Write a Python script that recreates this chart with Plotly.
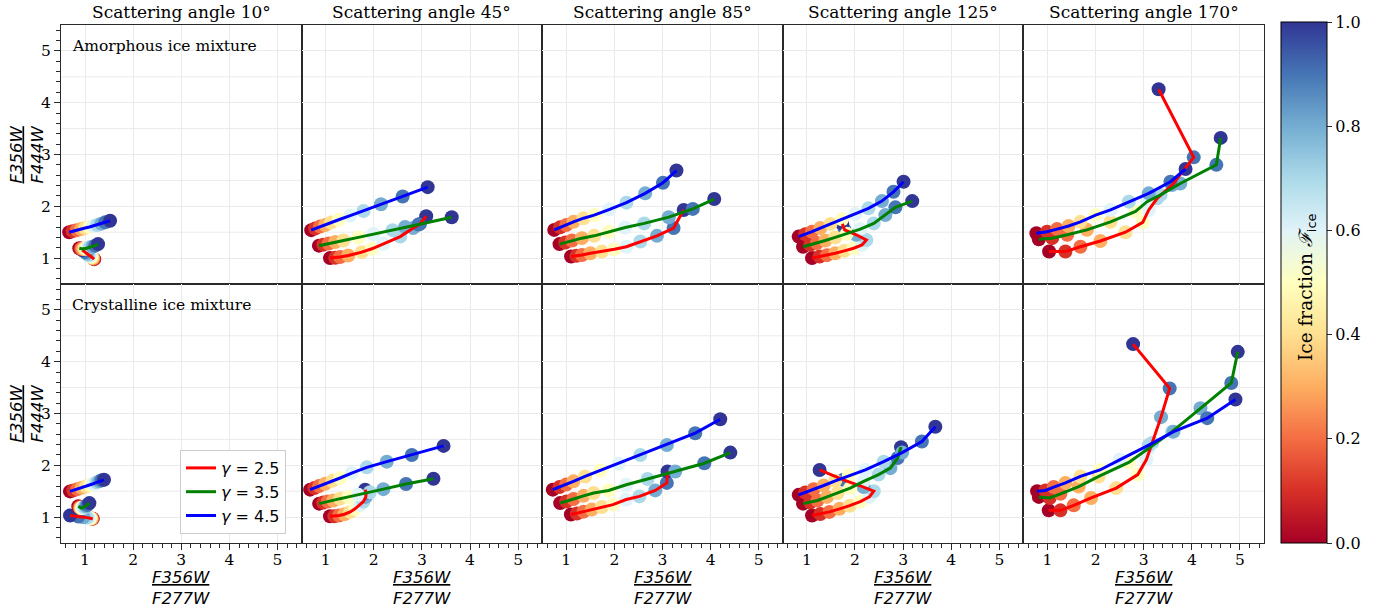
import plotly.graph_objects as go
from plotly.subplots import make_subplots

# ---------------- data ----------------
angles = [10, 45, 85, 125, 170]
gammas = [2.5, 3.5, 4.5]
gamma_colors = ["red", "green", "blue"]
ice_fraction = [0.0, 0.1, 0.2, 0.3, 0.4, 0.5, 0.6, 0.7, 0.8, 0.9, 1.0]
row_labels = ["Amorphous ice mixture", "Crystalline ice mixture"]
axis_ticks = [1, 2, 3, 4, 5]
cbar_ticks = [0.0, 0.2, 0.4, 0.6, 0.8, 1.0]

# Amorphous ice mixture (top row)
A10_g25_x = [1.19, 1.18, 1.17, 1.16, 1.145, 1.13, 1.10, 1.07, 1.035, 1.00, 0.94]
A10_g25_y = [0.98, 0.985, 0.99, 1.00, 1.01, 1.025, 1.045, 1.06, 1.09, 1.115, 1.155]
A10_g35_x = [0.88, 0.91, 0.93, 0.96, 0.99, 1.02, 1.06, 1.10, 1.155, 1.21, 1.27]
A10_g35_y = [1.19, 1.18, 1.18, 1.18, 1.18, 1.185, 1.20, 1.21, 1.22, 1.24, 1.27]
A10_g45_x = [0.67, 0.74, 0.83, 0.92, 1.00, 1.09, 1.17, 1.25, 1.34, 1.42, 1.52]
A10_g45_y = [1.50, 1.52, 1.54, 1.56, 1.58, 1.60, 1.62, 1.64, 1.665, 1.69, 1.72]

A45_g25_x = [1.09, 1.20, 1.30, 1.47, 1.75, 1.96, 2.20, 2.55, 2.82, 2.96, 3.09]
A45_g25_y = [1.00, 1.005, 1.02, 1.05, 1.115, 1.18, 1.275, 1.415, 1.58, 1.66, 1.81]
A45_g35_x = [0.86, 0.95, 1.06, 1.20, 1.37, 1.68, 1.99, 2.39, 2.65, 2.93, 3.62]
A45_g35_y = [1.24, 1.26, 1.28, 1.31, 1.34, 1.40, 1.465, 1.54, 1.60, 1.65, 1.79]
A45_g45_x = [0.70, 0.78, 0.885, 0.99, 1.11, 1.27, 1.51, 1.785, 2.15, 2.60, 3.12]
A45_g45_y = [1.54, 1.57, 1.61, 1.64, 1.685, 1.74, 1.82, 1.91, 2.04, 2.19, 2.37]

A85_g25_x = [1.10, 1.21, 1.325, 1.50, 1.74, 2.00, 2.25, 2.54, 2.885, 3.23, 3.44]
A85_g25_y = [1.03, 1.043, 1.06, 1.095, 1.125, 1.17, 1.22, 1.32, 1.43, 1.58, 1.93]
A85_g35_x = [0.86, 0.98, 1.12, 1.325, 1.58, 1.88, 2.225, 2.62, 3.13, 3.63, 4.075]
A85_g35_y = [1.27, 1.30, 1.34, 1.385, 1.43, 1.51, 1.59, 1.67, 1.79, 1.95, 2.14]
A85_g45_x = [0.75, 0.874, 1.00, 1.15, 1.36, 1.58, 1.90, 2.25, 2.64, 3.01, 3.29]
A85_g45_y = [1.544, 1.596, 1.64, 1.70, 1.77, 1.83, 1.94, 2.07, 2.25, 2.455, 2.69]

A125_g25_x = [1.107, 1.265, 1.419, 1.59, 1.779, 1.972, 2.146, 2.236, 2.028, 1.785, 1.737]
A125_g25_y = [1.00, 1.03, 1.057, 1.095, 1.14, 1.19, 1.255, 1.35, 1.45, 1.545, 1.66]
A125_g35_x = [0.92, 1.07, 1.21, 1.384, 1.59, 1.83, 2.11, 2.39, 2.63, 2.84, 3.19]
A125_g35_y = [1.22, 1.255, 1.29, 1.34, 1.40, 1.47, 1.56, 1.67, 1.83, 1.98, 2.10]
A125_g45_x = [0.83, 0.968, 1.107, 1.28, 1.49, 1.73, 2.007, 2.28, 2.56, 2.80, 3.01]
A125_g45_y = [1.415, 1.46, 1.51, 1.58, 1.66, 1.75, 1.85, 1.96, 2.10, 2.28, 2.475]

A170_g25_x = [1.034, 1.373, 1.685, 2.10, 2.62, 2.98, 3.105, 3.28, 3.59, 4.04, 3.31]
A170_g25_y = [1.126, 1.126, 1.22, 1.33, 1.50, 1.69, 1.93, 2.155, 2.41, 2.945, 4.26]
A170_g35_x = [0.82, 1.097, 1.41, 1.82, 2.31, 2.83, 3.07, 3.35, 3.76, 4.51, 4.60]
A170_g35_y = [1.365, 1.385, 1.45, 1.545, 1.70, 1.90, 2.09, 2.22, 2.44, 2.80, 3.32]
A170_g45_x = [0.77, 0.99, 1.20, 1.44, 1.685, 2.00, 2.31, 2.69, 3.105, 3.556, 3.87]
A170_g45_y = [1.48, 1.51, 1.56, 1.62, 1.70, 1.83, 1.93, 2.09, 2.25, 2.475, 2.72]

# Crystalline ice mixture (bottom row)
C10_g25_x = [1.16, 1.15, 1.145, 1.13, 1.117, 1.103, 1.075, 1.034, 0.963, 0.86, 0.687]
C10_g25_y = [0.97, 0.97, 0.97, 0.97, 0.977, 0.977, 0.985, 0.99, 0.997, 1.01, 1.03]
C10_g35_x = [0.86, 0.88, 0.895, 0.91, 0.92, 0.937, 0.96, 0.99, 1.02, 1.047, 1.09]
C10_g35_y = [1.21, 1.196, 1.18, 1.18, 1.177, 1.177, 1.18, 1.196, 1.215, 1.235, 1.27]
C10_g45_x = [0.687, 0.756, 0.84, 0.93, 1.02, 1.103, 1.17, 1.24, 1.295, 1.346, 1.394]
C10_g45_y = [1.496, 1.515, 1.54, 1.567, 1.59, 1.62, 1.644, 1.67, 1.69, 1.71, 1.72]

C45_g25_x = [1.09, 1.18, 1.28, 1.39, 1.51, 1.61, 1.716, 1.785, 1.835, 1.84, 1.82]
C45_g25_y = [1.016, 1.016, 1.03, 1.055, 1.10, 1.16, 1.235, 1.30, 1.39, 1.465, 1.53]
C45_g35_x = [0.864, 0.947, 1.045, 1.16, 1.30, 1.473, 1.68, 1.92, 2.20, 2.67, 3.24]
C45_g35_y = [1.26, 1.28, 1.30, 1.32, 1.356, 1.39, 1.43, 1.48, 1.54, 1.64, 1.74]
C45_g45_x = [0.677, 0.766, 0.864, 0.989, 1.14, 1.30, 1.54, 1.855, 2.27, 2.79, 3.45]
C45_g45_y = [1.53, 1.56, 1.60, 1.645, 1.70, 1.755, 1.85, 1.96, 2.07, 2.20, 2.375]

C85_g25_x = [1.096, 1.22, 1.36, 1.53, 1.74, 1.97, 2.246, 2.52, 2.85, 3.09, 3.105]
C85_g25_y = [1.05, 1.07, 1.105, 1.145, 1.196, 1.24, 1.34, 1.40, 1.515, 1.66, 1.88]
C85_g35_x = [0.874, 1.00, 1.15, 1.36, 1.567, 1.88, 2.246, 2.69, 3.265, 3.87, 4.41]
C85_g35_y = [1.27, 1.30, 1.35, 1.41, 1.465, 1.515, 1.625, 1.735, 1.88, 2.04, 2.245]
C85_g45_x = [0.72, 0.86, 1.00, 1.15, 1.39, 1.706, 2.09, 2.54, 3.09, 3.68, 4.20]
C85_g45_y = [1.53, 1.58, 1.63, 1.69, 1.785, 1.90, 2.03, 2.20, 2.39, 2.62, 2.89]

C125_g25_x = [1.107, 1.28, 1.47, 1.68, 1.89, 2.11, 2.30, 2.39, 2.18, 1.76, 1.265]
C125_g25_y = [1.03, 1.06, 1.10, 1.16, 1.22, 1.30, 1.39, 1.50, 1.58, 1.72, 1.91]
C125_g35_x = [0.92, 1.07, 1.22, 1.42, 1.64, 1.90, 2.18, 2.49, 2.735, 2.887, 2.957]
C125_g35_y = [1.26, 1.285, 1.32, 1.39, 1.465, 1.56, 1.69, 1.82, 1.945, 2.14, 2.35]
C125_g45_x = [0.83, 0.968, 1.14, 1.35, 1.59, 1.87, 2.215, 2.596, 2.98, 3.39, 3.67]
C125_g45_y = [1.43, 1.475, 1.54, 1.61, 1.70, 1.80, 1.91, 2.07, 2.245, 2.46, 2.745]

C170_g25_x = [1.026, 1.27, 1.546, 1.907, 2.43, 2.876, 3.057, 3.175, 3.36, 3.54, 2.78]
C170_g25_y = [1.13, 1.13, 1.227, 1.37, 1.56, 1.82, 2.11, 2.43, 2.93, 3.485, 4.34]
C170_g35_x = [0.82, 1.047, 1.27, 1.65, 2.065, 2.69, 3.105, 3.59, 4.18, 4.82, 4.955]
C170_g35_y = [1.39, 1.37, 1.45, 1.59, 1.785, 2.055, 2.33, 2.65, 3.10, 3.59, 4.19]
C170_g45_x = [0.785, 0.957, 1.13, 1.373, 1.685, 2.09, 2.50, 3.105, 3.62, 4.32, 4.907]
C170_g45_y = [1.50, 1.515, 1.58, 1.66, 1.785, 1.91, 2.106, 2.39, 2.65, 2.91, 3.27]

# lookup table built from the named lists above
g = globals()
series = {}
for ri, pre in enumerate(["A", "C"]):
    for ang in angles:
        for gm in gammas:
            key = f"{pre}{ang}_g{str(gm).replace('.', '')}"
            series[(ri, ang, gm)] = (g[key + "_x"], g[key + "_y"])

# ---------------- style ----------------
RdYlBu = [[0.0, '#a50026'], [0.1, '#d73027'], [0.2, '#f46d43'], [0.3, '#fdae61'],
          [0.4, '#fee090'], [0.5, '#ffffbf'], [0.6, '#e0f3f8'], [0.7, '#abd9e9'],
          [0.8, '#74add1'], [0.9, '#4575b4'], [1.0, '#313695']]
SERIF = "DejaVu Serif"
SANS = "DejaVu Sans"
AXC = "#2a2a2a"
GRIDC = "#ebebeb"

W, H = 1389, 610
ML, MR, MT, MB = 61, 125, 25, 67
PW = W - ML - MR
PH = H - MT - MB

fig = make_subplots(rows=2, cols=5, horizontal_spacing=0, vertical_spacing=0)

first_scale = True
for ri in range(2):
    for ci, ang in enumerate(angles):
        # markers first
        for gm in gammas:
            xs, ys = series[(ri, ang, gm)]
            fig.add_trace(go.Scatter(
                x=xs, y=ys, mode="markers", showlegend=False, hoverinfo="skip",
                marker=dict(size=14, color=ice_fraction, colorscale=RdYlBu,
                            cmin=0, cmax=1, line=dict(width=0),
                            showscale=first_scale,
                            colorbar=dict(
                                x=(1281 - ML) / PW, xanchor="left", xref="paper",
                                xpad=0, ypad=0,
                                y=(H - MB - 282.5) / PH, yanchor="middle",
                                lenmode="pixels", len=521,
                                thickness=46, thicknessmode="pixels",
                                outlinecolor="black", outlinewidth=1,
                                tickvals=cbar_ticks, tickformat=".1f",
                                ticks="outside", ticklen=5, tickcolor=AXC,
                                tickfont=dict(family=SERIF, size=16, color="black"),
                            ) if first_scale else None)),
                row=ri + 1, col=ci + 1)
            first_scale = False
        # lines on top
        for gm, lc in zip(gammas, gamma_colors):
            xs, ys = series[(ri, ang, gm)]
            fig.add_trace(go.Scatter(
                x=xs, y=ys, mode="lines", line=dict(color=lc, width=3),
                name=f"<i>γ</i> = {gm}", legendgroup=str(gm),
                showlegend=(ri == 1 and ci == 0), hoverinfo="skip"),
                row=ri + 1, col=ci + 1)

# axes
for ri in range(2):
    for ci in range(5):
        bottom = ri == 1
        left = ci == 0
        fig.update_xaxes(
            range=[0.5, 5.5], tickvals=axis_ticks, showgrid=True, gridcolor=GRIDC, gridwidth=1,
            zeroline=False, showline=True, linecolor=AXC, linewidth=1.3, mirror=True,
            ticks="outside" if bottom else "", ticklen=6, tickwidth=1.2, tickcolor=AXC,
            showticklabels=bottom, ticklabelstandoff=-4,
            tickfont=dict(family=SERIF, size=15.5, color="black"),
            minor=dict(dtick=0.2, ticks="outside" if bottom else "", ticklen=3.5,
                       tickcolor=AXC, tickwidth=1, showgrid=False),
            row=ri + 1, col=ci + 1)
        fig.update_yaxes(
            range=[0.5, 5.5], tickvals=axis_ticks, showgrid=True, gridcolor=GRIDC, gridwidth=1,
            zeroline=False, showline=True, linecolor=AXC, linewidth=1.3, mirror=True,
            ticks="outside" if left else "", ticklen=6, tickwidth=1.2, tickcolor=AXC,
            showticklabels=left, tickfont=dict(family=SERIF, size=15.5, color="black"),
            minor=dict(dtick=0.2, ticks="outside" if left else "", ticklen=3.5,
                       tickcolor=AXC, tickwidth=1, showgrid=False),
            row=ri + 1, col=ci + 1)

# half-step horizontal grid lines
half_grid = [1.5, 2.5, 3.5, 4.5]
shapes = []
for n in range(1, 11):
    sfx = "" if n == 1 else str(n)
    for yv in half_grid:
        shapes.append(dict(type="line", xref=f"x{sfx} domain", yref=f"y{sfx}",
                           x0=0, x1=1, y0=yv, y1=yv, layer="below",
                           line=dict(color=GRIDC, width=1)))

annotations = []
col_w = 1.0 / 5
for ci, ang in enumerate(angles):
    annotations.append(dict(text=f"Scattering angle {ang}°", xref="paper", yref="paper",
                            x=(ci + 0.5) * col_w, y=1, xanchor="center", yanchor="bottom", yshift=1,
                            showarrow=False, font=dict(family=SERIF, size=17, color="black")))
    annotations.append(dict(text="<u><i>F356W</i></u><br><i>F277W</i>", xref="paper", yref="paper",
                            x=(ci + 0.5) * col_w, y=0, xanchor="center", yanchor="top", yshift=-23,
                            showarrow=False, font=dict(family=SANS, size=16.5, color="black")))
for ri, lab in enumerate(row_labels):
    annotations.append(dict(text=lab, xref="paper", yref="paper",
                            x=(70 - ML) / PW, y=1 - (ri * 0.5) - (46 - MT) / PH,
                            xanchor="left", yanchor="middle", showarrow=False,
                            font=dict(family=SERIF, size=15.5, color="black")))
    annotations.append(dict(text="<u><i>F356W</i></u><br><i>F444W</i>", xref="paper", yref="paper",
                            x=(26 - ML) / PW, y=0.75 - 0.5 * ri, xanchor="center", yanchor="middle",
                            textangle=-90, showarrow=False,
                            font=dict(family=SANS, size=16.5, color="black")))
annotations.append(dict(text="Ice fraction <i>ℱ</i><sub><span style='font-family:DejaVu Sans'>ice</span></sub>",
                        xref="paper", yref="paper", x=(1307 - ML) / PW, y=(H - MB - 287) / PH,
                        xanchor="center", yanchor="middle", textangle=-90, showarrow=False,
                        font=dict(family=SERIF, size=18.5, color="black")))

fig.update_layout(
    width=W, height=H,
    margin=dict(l=ML, r=MR, t=MT, b=MB, autoexpand=False),
    plot_bgcolor="white", paper_bgcolor="white",
    font=dict(family=SERIF, color="black"),
    shapes=shapes, annotations=annotations,
    legend=dict(x=(180 - ML) / PW, y=(H - MB - 450) / PH, xanchor="left", yanchor="top",
                bgcolor="white", bordercolor="#cccccc", borderwidth=1,
                font=dict(family=SANS, size=16, color="black"),
                tracegroupgap=0, itemwidth=30),
)

fig.write_html("out.html")
